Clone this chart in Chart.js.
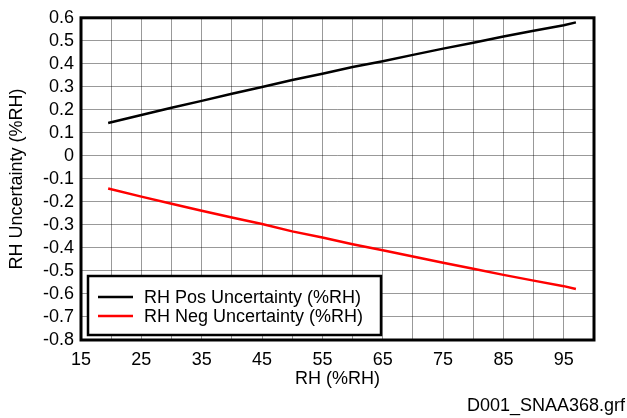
<!DOCTYPE html>
<html>
<head>
<meta charset="utf-8">
<script src="https://cdn.jsdelivr.net/npm/chart.js@4/dist/chart.umd.min.js"></script>
<style>
  html, body { margin: 0; padding: 0; background: #fff; }
  #wrap { width: 627px; height: 418px; }
</style>
</head>
<body>
<div id="wrap"><canvas id="rhChart" width="627" height="418"></canvas></div>
<script>
// values
const rhValues = [19.5, 25, 30, 35, 40, 45, 50, 55, 60, 65, 70, 75, 80, 85, 90, 95, 97];
const posUncertainty = [0.143, 0.178, 0.209, 0.239, 0.270, 0.299, 0.330, 0.357, 0.386, 0.411, 0.439, 0.466, 0.492, 0.519, 0.544, 0.568, 0.580];
const negUncertainty = [-0.142, -0.177, -0.208, -0.238, -0.268, -0.296, -0.328, -0.355, -0.384, -0.410, -0.437, -0.464, -0.490, -0.517, -0.542, -0.566, -0.578];
const xTickLabels = [15, 25, 35, 45, 55, 65, 75, 85, 95];
const seriesNames = ["RH Pos Uncertainty (%RH)", "RH Neg Uncertainty (%RH)"];
const seriesColors = ["#000000", "#ff0000"];

const FONT = "'Liberation Sans', Arial, sans-serif";
const FSIZE = 18;

function toPoints(xs, ys) {
  return xs.map((x, i) => ({ x: x, y: ys[i] }));
}

// frame, legend box and file name
const extras = {
  id: "extras",
  beforeDatasetsDraw(chart) {
    const { ctx, chartArea: a } = chart;
    ctx.save();
    ctx.strokeStyle = "#000";
    ctx.lineWidth = 3;
    ctx.strokeRect(a.left, a.top, a.right - a.left, a.bottom - a.top);
    ctx.restore();
  },
  afterDraw(chart) {
    const ctx = chart.ctx;
    ctx.save();
    // legend
    ctx.fillStyle = "#fff";
    ctx.fillRect(88, 276, 293, 59);
    ctx.strokeStyle = "#000";
    ctx.lineWidth = 2.5;
    ctx.strokeRect(88, 276, 293, 59);
    ctx.font = FSIZE + "px " + FONT;
    ctx.textBaseline = "middle";
    ctx.textAlign = "left";
    chart.data.datasets.forEach((ds, i) => {
      const y = 297 + i * 19;
      ctx.strokeStyle = ds.borderColor;
      ctx.lineWidth = 2.5;
      ctx.beginPath();
      ctx.moveTo(98, y);
      ctx.lineTo(133, y);
      ctx.stroke();
      ctx.fillStyle = "#000";
      ctx.fillText(ds.label, 144, y + 1);
    });
    // file name
    ctx.textAlign = "right";
    ctx.fillText("D001_SNAA368.grf", 625, 406);
    ctx.restore();
  }
};

const chart = new Chart(document.getElementById("rhChart"), {
  type: "line",
  data: {
    datasets: [
      {
        label: seriesNames[0],
        data: toPoints(rhValues, posUncertainty),
        borderColor: seriesColors[0],
        borderWidth: 2.5,
        pointRadius: 0,
        tension: 0
      },
      {
        label: seriesNames[1],
        data: toPoints(rhValues, negUncertainty),
        borderColor: seriesColors[1],
        borderWidth: 2.5,
        pointRadius: 0,
        tension: 0
      }
    ]
  },
  plugins: [extras],
  options: {
    responsive: false,
    animation: false,
    layout: { padding: { top: 13, right: 33, bottom: 28, left: 0 } },
    plugins: {
      legend: { display: false },
      tooltip: { enabled: false }
    },
    scales: {
      x: {
        type: "linear",
        min: 15,
        max: 100,
        afterBuildTicks: (scale) => {
          const t = [];
          for (let v = 15; v <= 100; v += 5) t.push({ value: v });
          scale.ticks = t;
        },
        afterFit: (scale) => { scale.height = 50; },
        grid: { color: "rgba(0,0,0,0.4)", lineWidth: 1, drawTicks: false },
        border: { display: false },
        ticks: {
          color: "#000",
          font: { family: FONT, size: FSIZE },
          padding: 9,
          maxRotation: 0,
          autoSkip: false,
          callback: (v) => xTickLabels.includes(v) ? String(v) : ""
        },
        title: {
          display: true,
          text: "RH (%RH)",
          color: "#000",
          font: { family: FONT, size: FSIZE },
          padding: { top: 0, bottom: 0 }
        }
      },
      y: {
        min: -0.8,
        max: 0.6,
        afterBuildTicks: (scale) => {
          const t = [];
          for (let i = -8; i <= 6; i++) t.push({ value: i / 10 });
          scale.ticks = t;
        },
        afterFit: (scale) => { scale.width = 81; },
        grid: { color: "rgba(0,0,0,0.4)", lineWidth: 1, drawTicks: false },
        border: { display: false },
        ticks: {
          color: "#000",
          font: { family: FONT, size: FSIZE },
          padding: 7,
          autoSkip: false,
          callback: (v) => String(Number(v.toFixed(1)))
        },
        title: {
          display: true,
          text: "RH Uncertainty (%RH)",
          color: "#000",
          font: { family: FONT, size: FSIZE },
          padding: { top: 6, bottom: 0 }
        }
      }
    }
  }
});
</script>
</body>
</html>
